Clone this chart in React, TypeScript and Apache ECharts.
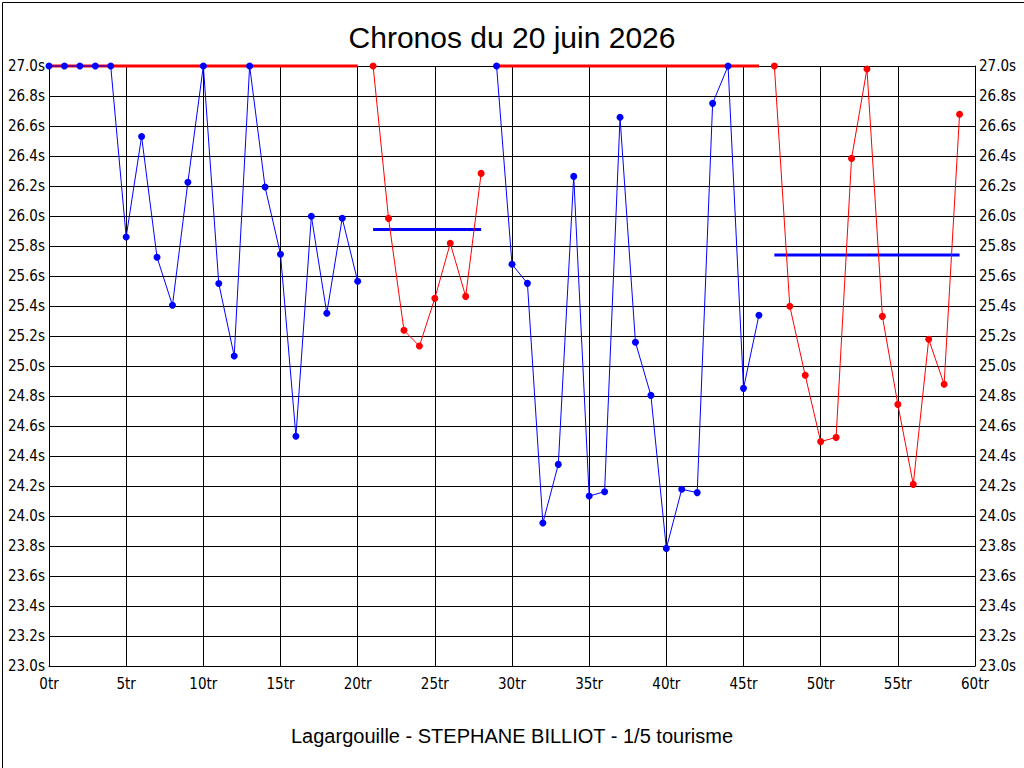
import React, { useEffect, useRef } from "react";
import * as echarts from "echarts";

const lapTimes: number[] = [
  27.0, 27.0, 27.0, 27.0, 27.0, 25.86, 26.53, 25.725, 25.405, 26.225,
  27.0, 25.55, 25.067, 27.0, 26.193, 25.745, 24.532, 25.998, 25.352, 25.985,
  25.565, 27.0, 25.984, 25.238, 25.133, 25.451, 25.818, 25.464, 26.284, 27.0,
  25.678, 25.551, 23.953, 24.344, 26.264, 24.133, 24.162, 26.658, 25.158, 24.804,
  23.784, 24.178, 24.156, 26.751, 27.0, 24.851, 25.338, 27.0, 25.398, 24.938,
  24.496, 24.524, 26.384, 26.98, 25.331, 24.744, 24.211, 25.178, 24.878, 26.678,
];

// segments: [firstLap, lastLap]
const segmentStart: number[] = [0, 21, 29, 47];
const segmentEnd: number[] = [20, 28, 46, 59];
const segmentColor: string[] = ["#0000ff", "#ff0000", "#0000ff", "#ff0000"];
const averageValue: number[] = [27.0, 25.91, 27.0, 25.74];
const averageColor: string[] = ["#ff0000", "#0000ff", "#ff0000", "#0000ff"];

const titleText = "Chronos du 20 juin 2026";
const subtitleText = "Lagargouille - STEPHANE BILLIOT - 1/5 tourisme";

export default function App() {
  const ref = useRef<HTMLDivElement>(null);
  useEffect(() => {
    document.body.style.margin = "0";
    if (!ref.current) return;
    const chart = echarts.init(ref.current, null, { renderer: "svg" });
    const series: any[] = [];
    segmentStart.forEach((s, i) => {
      const e = segmentEnd[i];
      series.push({
        type: "line",
        z: 1,
        silent: true,
        clip: false,
        symbol: "none",
        lineStyle: { color: averageColor[i], width: 3 },
        data: [
          [s, averageValue[i]],
          [e, averageValue[i]],
        ],
      });
    });
    segmentStart.forEach((s, i) => {
      const e = segmentEnd[i];
      const data: number[][] = [];
      for (let k = s; k <= e; k++) data.push([k, lapTimes[k]]);
      series.push({
        type: "line",
        z: 3,
        clip: false,
        symbol: "circle",
        symbolSize: 7,
        itemStyle: { color: segmentColor[i] },
        lineStyle: { color: segmentColor[i], width: 1 },
        data,
      });
    });
    const labelFont = {
      color: "#000",
      fontFamily: "'Liberation Sans Narrow', 'DejaVu Sans Condensed', Arial, sans-serif",
      fontSize: 15,
    };
    const yAxisBase = {
      type: "value",
      min: 23,
      max: 27,
      interval: 0.2,
      axisLine: { show: true, lineStyle: { color: "#000", width: 1 } },
      axisTick: { show: false },
      splitLine: { show: true, lineStyle: { color: "#000", width: 1 } },
      axisLabel: {
        ...labelFont,
        margin: 4,
        formatter: (v: number) => v.toFixed(1) + "s",
      },
    };
    chart.setOption({
      animation: false,
      backgroundColor: "#ffffff",
      title: [
        {
          text: titleText,
          left: "center",
          top: 17,
          textStyle: {
            fontFamily: "'Liberation Sans', Arial, sans-serif",
            fontSize: 30,
            fontWeight: "normal",
            color: "#000",
          },
        },
        {
          text: subtitleText,
          left: "center",
          top: 721,
          textStyle: {
            fontFamily: "'Liberation Sans', Arial, sans-serif",
            fontSize: 20,
            fontWeight: "normal",
            color: "#000",
          },
        },
      ],
      grid: { left: 49, right: 49, top: 66, bottom: 102, containLabel: false },
      xAxis: {
        type: "value",
        min: 0,
        max: 60,
        interval: 5,
        axisLine: { show: true, onZero: false, lineStyle: { color: "#000", width: 1 } },
        axisTick: { show: false },
        splitLine: { show: true, lineStyle: { color: "#000", width: 1 } },
        axisLabel: {
          ...labelFont,
          margin: 10,
          formatter: (v: number) => v + "tr",
        },
      },
      yAxis: [
        { ...yAxisBase, position: "left" },
        { ...yAxisBase, position: "right" },
      ],
      graphic: [
        {
          type: "rect",
          left: 0,
          top: 0,
          shape: { x: 0.5, y: 0.5, width: 1023, height: 767 },
          style: { fill: "none", stroke: "#000", lineWidth: 1 },
          silent: true,
        },
      ],
      series,
    });
    return () => chart.dispose();
  }, []);
  return <div ref={ref} style={{ width: 1024, height: 768 }} />;
}
